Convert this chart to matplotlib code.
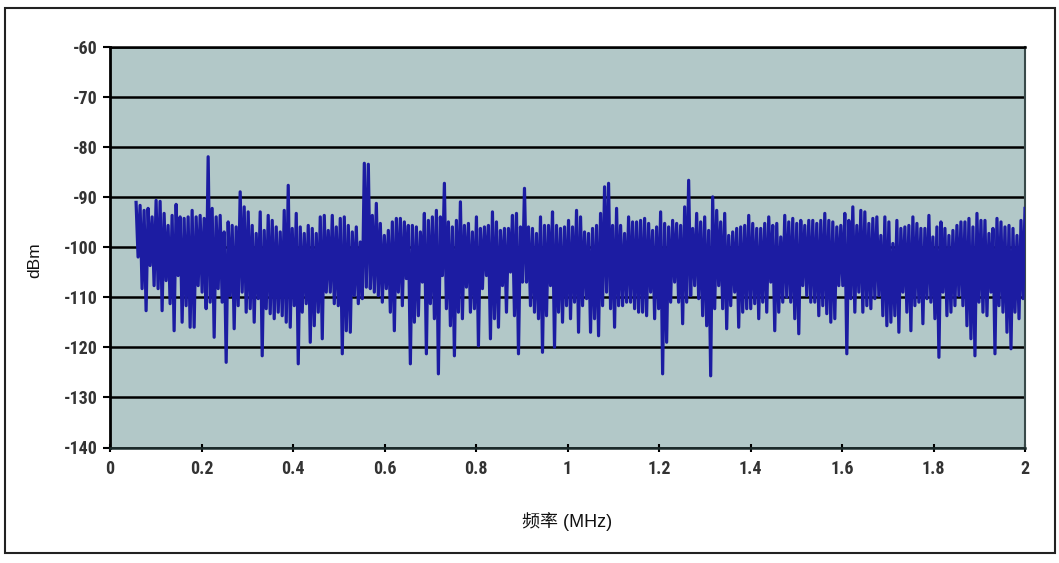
import matplotlib
matplotlib.use('Agg')
import matplotlib.pyplot as plt
import numpy as np
from matplotlib import font_manager as fm
from matplotlib.patches import Rectangle

# Upper envelope (peaks) of the noise trace, dBm, read left to right
hi = [-91.1, -91.7, -92.7, -92.3, -94, -90.7, -90.9, -93.3, -95.7, -93.7,
      -91.5, -94, -94.3, -94, -92.7, -94, -93.7, -94.3, -82, -92.3,
      -94, -93.7, -97, -95, -95.7, -96, -89, -92, -93, -95.7,
      -97.3, -93, -96.7, -93.7, -94.7, -96, -97, -92.7, -87.7, -96.3,
      -93.3, -96, -97.3, -95.7, -96.3, -97.3, -94, -93.7, -96.7, -93.7,
      -96, -94.3, -94, -95.7, -97, -96, -99, -83.3, -83.5, -93.7,
      -91.3, -95.3, -97.7, -96.7, -95, -94.3, -94.3, -95, -95.7, -95.7,
      -96, -97, -93.3, -94.7, -94, -92.7, -94, -87.3, -95, -96,
      -94.7, -91, -95.7, -95.3, -97, -94, -96.3, -96, -95.7, -93,
      -95, -96.7, -96.3, -96.3, -93.7, -93.3, -96, -88.3, -96, -96.3,
      -97.3, -94, -95.7, -95.7, -93, -95.7, -96.3, -96, -94.7, -96,
      -92.7, -94, -97, -97.3, -96.3, -95.7, -93.3, -88, -87.3, -95.7,
      -92.3, -95.7, -97.3, -94, -95, -95, -94.7, -94.3, -95.3, -96.7,
      -96, -93, -95.3, -96, -94.7, -95.3, -95.7, -92, -86.7, -96.3,
      -93.3, -95, -94, -96.7, -90, -92.7, -95, -93.3, -97.7, -97,
      -96.3, -96, -95.7, -93.7, -95.3, -96.3, -96.3, -95.3, -94, -95.7,
      -95.3, -98, -93.7, -95, -94.3, -95.3, -94.7, -95.7, -94.7, -94.7,
      -95.3, -94.7, -93.3, -94.7, -95, -96, -95.7, -93.3, -94.7, -92,
      -95.7, -92.7, -93, -95.3, -94.3, -94, -97.7, -94, -95, -99.3,
      -94.7, -96.3, -96, -95.7, -94, -95.3, -96.3, -96.3, -93.7, -98,
      -96, -95, -96.3, -97.7, -96.7, -95.7, -95, -95, -94.3, -96,
      -93.3, -94.7, -94.7, -97.3, -96.3, -94.3, -95, -96, -95.7, -96.3,
      -97.7, -94.7, -92.3]

# Lower envelope (dips) of the noise trace, dBm, read left to right
lo = [-102, -108.3, -112.7, -103.7, -107.7, -108.3, -112.7, -106.7, -111.3, -116.7,
      -105.7, -115, -111.7, -116, -116, -107.7, -109, -112.3, -111, -118,
      -108.3, -111, -123, -109.7, -116.3, -111.7, -109, -113, -112.3, -115,
      -110.3, -121.7, -112.3, -113.3, -114.3, -113, -113.7, -115, -116, -111.7,
      -123.3, -113, -111.3, -119, -115.7, -113, -118.3, -109, -109, -111.3,
      -111.7, -121.3, -116.7, -117, -109.7, -111.3, -110.3, -108, -108.3, -109,
      -109.7, -111, -108.3, -113, -116.7, -109, -111.7, -106.3, -123.3, -115,
      -113.7, -107, -121.3, -111.3, -114.3, -125.3, -105.7, -112.3, -115.7, -121.7,
      -113, -114.3, -108, -113, -112.3, -119.7, -108.3, -105.7, -118.3, -114.3,
      -116, -107.7, -113, -105, -113.7, -121.3, -107, -107, -111.7, -113,
      -114.3, -121, -113.7, -107.7, -120, -113, -115, -111.7, -114.3, -111,
      -117, -111.7, -110.3, -117, -114.3, -117.7, -111.7, -109, -112.3, -116,
      -111.7, -111.7, -111, -111, -112.3, -113, -113, -113.7, -109, -114.3,
      -112.3, -125.3, -119, -111, -107, -111, -115.3, -111, -109.7, -107.7,
      -110.3, -113.7, -115.7, -125.7, -112.3, -107.7, -112.3, -116.3, -111.7, -109,
      -116, -113, -112.3, -112.3, -111.3, -114.3, -111, -113, -107, -116.7,
      -113, -111, -110, -111, -114.3, -117.3, -107.7, -109.7, -111, -111,
      -113.7, -111.7, -113.3, -115, -114.3, -107.7, -107.7, -121.3, -110.3, -113,
      -109, -113, -111.7, -112.3, -110.3, -109.7, -113.7, -115.7, -115, -113.7,
      -117, -109, -113, -116.7, -111.7, -111, -115.3, -110.3, -111, -114.3,
      -122, -109, -113.7, -113, -111.7, -109.7, -111.7, -115.7, -118.3, -121.7,
      -111, -113, -113.7, -109, -121.3, -111.7, -113, -117, -120.3, -113,
      -114.3, -110.3]

f_start, f_stop = 0.057, 2.0
x_ticks = [0, 0.2, 0.4, 0.6, 0.8, 1, 1.2, 1.4, 1.6, 1.8, 2]
x_tick_labels = ['0', '0.2', '0.4', '0.6', '0.8', '1', '1.2', '1.4', '1.6', '1.8', '2']
y_ticks = [-140, -130, -120, -110, -100, -90, -80, -70, -60]
x_label = '频率 (MHz)'
y_label = 'dBm'

dbm = np.empty(len(hi) + len(lo))
dbm[0::2] = hi
dbm[1::2] = lo
freq = np.linspace(f_start, f_stop, len(dbm))

names = {f.name for f in fm.fontManager.ttflist}
tick_font = next((n for n in ['Liberation Sans Narrow', 'Roboto Condensed',
                              'Open Sans Condensed'] if n in names), 'Liberation Sans')

W, H = 1059, 563
fig = plt.figure(figsize=(W / 100, H / 100), dpi=100)
fig.patch.set_facecolor('white')
ax = fig.add_axes([110 / W, 1 - 447.5 / H, (1025 - 110) / W, (447.5 - 46.5) / H])
ax.set_facecolor('#b2c8c8')

ax.plot(freq, dbm, color='#1c1ca2', lw=2.3, zorder=3)

ax.set_xlim(0, 2)
ax.set_ylim(-140, -60)
ax.set_yticks(y_ticks)
ax.set_yticklabels([str(v) for v in y_ticks])
ax.set_xticks(x_ticks)
ax.set_xticklabels(x_tick_labels)
ax.set_axisbelow(True)
ax.yaxis.grid(True, color='black', lw=1.8)
ax.xaxis.grid(False)

for lab in ax.get_xticklabels() + ax.get_yticklabels():
    lab.set_fontfamily(tick_font)
    lab.set_fontsize(13)
    lab.set_color('#333333')
    lab.set_fontweight('bold')

ax.tick_params(axis='y', direction='out', length=5, width=1.5, pad=4)
ax.tick_params(axis='x', direction='inout', length=6, width=1.5, pad=6)

ax.spines['left'].set_linewidth(2)
ax.spines['left'].set_color('black')
ax.spines['bottom'].set_linewidth(1.8)
ax.spines['bottom'].set_color('#1a2a2a')
ax.spines['top'].set_linewidth(1.8)
ax.spines['top'].set_color('black')
ax.spines['right'].set_linewidth(1.5)
ax.spines['right'].set_color('#3a4a4a')

fam = ['Liberation Sans', 'Noto Sans CJK SC', 'DejaVu Sans']
fig.text(567 / W, 1 - 522 / H, x_label, family=fam, fontsize=13,
         ha='center', va='center', color='#111111')
fig.text(35 / W, 1 - 260 / H, y_label, family=fam, fontsize=12.5,
         ha='center', va='center', rotation=90, color='#111111')

fig.patches.append(Rectangle((5 / W, 1 - 553 / H), (1055 - 5) / W, (553 - 8) / H,
                             transform=fig.transFigure, fill=False,
                             ec='#222222', lw=1.5))

fig.savefig('out.png', dpi=100, facecolor='white')
